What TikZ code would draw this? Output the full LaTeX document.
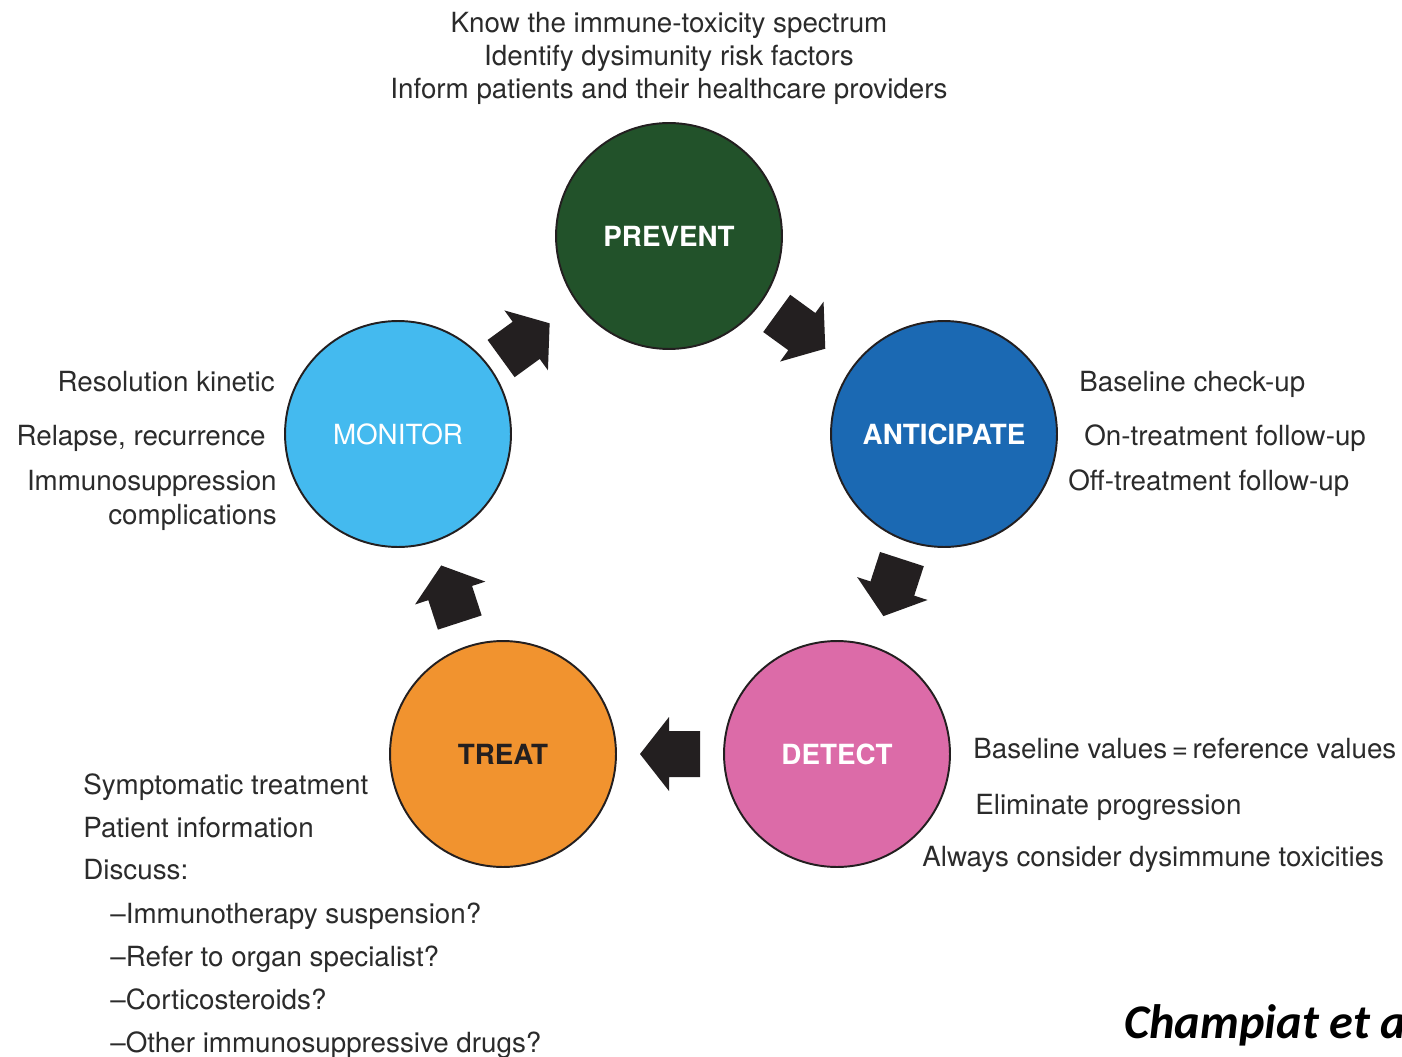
\documentclass[tikz,border=0pt]{standalone}
\usepackage{fontspec}
\setmainfont{TeX Gyre Heros}
\newfontfamily\calibfont{Carlito}
\usetikzlibrary{calc}
\definecolor{cprevent}{HTML}{22522A}
\definecolor{cantic}{HTML}{1B69B3}
\definecolor{cdetect}{HTML}{DC6BA8}
\definecolor{ctreat}{HTML}{F1932F}
\definecolor{cmonitor}{HTML}{44BAEF}
\definecolor{ink}{HTML}{231F20}
\definecolor{txt}{HTML}{2B2B2B}
\tikzset{
  stage/.style={circle, draw=ink, line width=1.1pt, minimum size=4.52cm, inner sep=0pt,
    font=\fontsize{15.8}{18}\selectfont\bfseries},
  note/.style={inner sep=0pt, text=txt},
  blockarrow/.pic={\fill[ink] (-30,-23) -- (1,-23) -- (1,-37) -- (30,0) -- (1,37) -- (1,23) -- (-30,23) -- cycle;}
}
\begin{document}
\begin{tikzpicture}[x=0.02cm, y=-0.02cm, font=\fontsize{15.8}{18}\selectfont]
\useasboundingbox[fill=white] (0,0) rectangle (1402,1057);

% stages
\node[stage, fill=cprevent, text=white] (prevent) at (669,236) {PREVENT};
\node[stage, fill=cantic, text=white] (anticipate) at (944,434) {ANTICIPATE};
\node[stage, fill=cdetect, text=white] (detect) at (837,754) {DETECT};
\node[stage, fill=ctreat, text=ink] (treat) at (503,754) {TREAT};
\node[stage, fill=cmonitor, text=white, font=\fontsize{15.8}{18}\selectfont] (monitor) at (398,434) {MONITOR};

% block arrows
\pic[rotate=36] at ($(monitor)!0.47!(prevent)$) {blockarrow};
\pic[rotate=-36] at ($(prevent)!0.48!(anticipate)$) {blockarrow};
\pic[rotate=-108] at ($(anticipate)!0.48!(detect)$) {blockarrow};
\pic[rotate=180] at ($(detect)!0.5!(treat)$) {blockarrow};
\pic[rotate=108] at ($(treat)!0.5!(monitor)$) {blockarrow};

% prevent notes
\node[note, anchor=base] (p1) at (669,33) {Know the immune-toxicity spectrum};
\node[note, anchor=base] (p2) at (669,66) {Identify dysimunity risk factors};
\node[note, anchor=base] (p3) at (669,99) {Inform patients and their healthcare providers};

% monitor notes
\node[note, anchor=base east] (m1) at (275,391) {Resolution kinetic};
\node[note, anchor=base east] (m2) at (266,445) {Relapse, recurrence};
\node[note, anchor=base east] (m3) at (277,490) {Immunosuppression};
\node[note, anchor=base east] (m4) at (277,524) {complications};

% anticipate notes
\node[note, anchor=base west] (a1) at (1079,391) {Baseline check-up};
\node[note, anchor=base west] (a2) at (1084,445) {On-treatment follow-up};
\node[note, anchor=base west] (a3) at (1068,490) {Off-treatment follow-up};

% detect notes
\node[note, anchor=base west] (d1) at (973,758) {Baseline values\,=\,reference values};
\node[note, anchor=base west] (d2) at (975,814) {Eliminate progression};
\node[note, anchor=base west] (d3) at (922,866) {Always consider dysimmune toxicities};

% treat notes
\node[note, anchor=base west] (t1) at (83,794) {Symptomatic treatment};
\node[note, anchor=base west] (t2) at (83,837) {Patient information};
\node[note, anchor=base west] (t3) at (83,879) {Discuss:};
\node[note, anchor=base west] (t4) at (110,923) {–Immunotherapy suspension?};
\node[note, anchor=base west] (t5) at (110,966) {–Refer to organ specialist?};
\node[note, anchor=base west] (t6) at (110,1009) {–Corticosteroids?};
\node[note, anchor=base west] (t7) at (110,1052) {–Other immunosuppressive drugs?};

% citation
\node[inner sep=0pt, anchor=base west, font=\calibfont\fontsize{27.5}{32}\selectfont\bfseries\itshape] (cite) at (1124,1038) {Champiat et al.};
\end{tikzpicture}
\end{document}
